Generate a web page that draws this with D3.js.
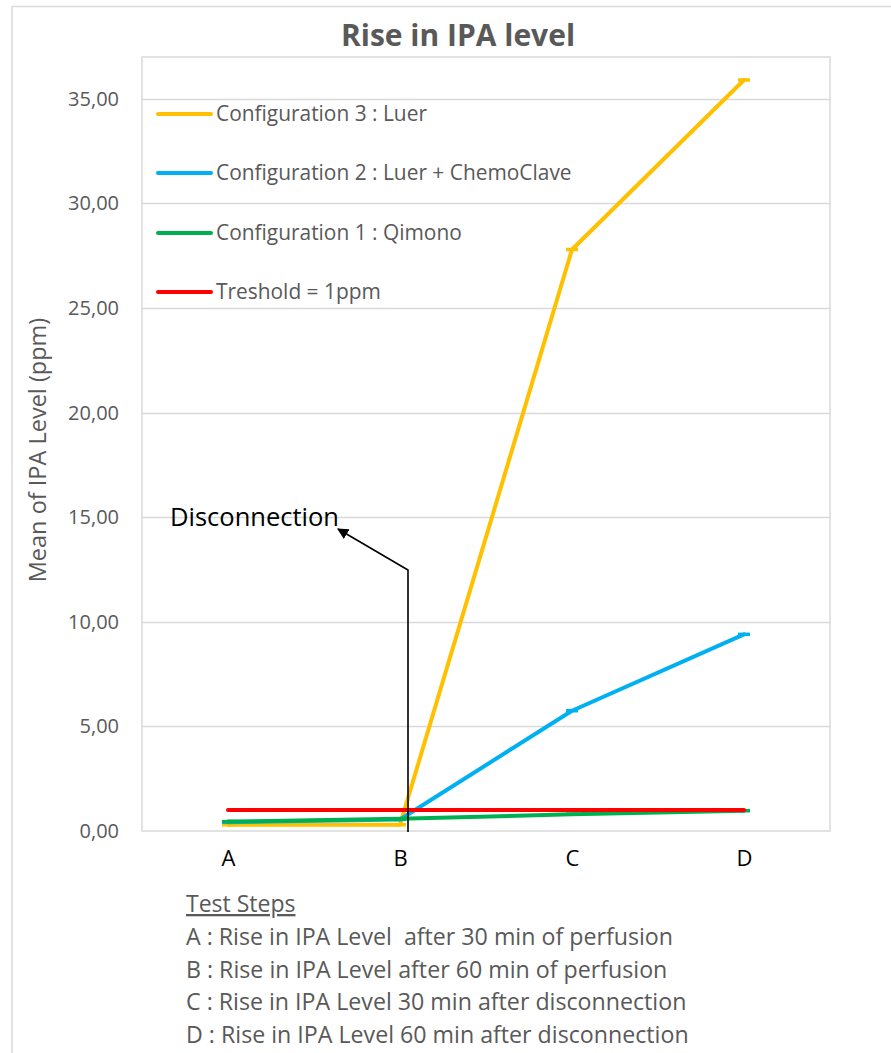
<!DOCTYPE html>
<html>
<head>
<meta charset="utf-8">
<script src="https://cdn.jsdelivr.net/npm/d3@7"></script>
<style>
  html, body { margin: 0; padding: 0; background: #fff; }
  svg { display: block; }
  text { font-family: "Open Sans", Lato, sans-serif; }
</style>
</head>
<body>
<svg id="chart" width="891" height="1053"></svg>
<script>
// Test steps on the x axis
const categories = ["A", "B", "C", "D"];

// Mean IPA level (ppm) for each configuration at each step
const config3Luer = [0.30, 0.30, 27.80, 35.90];
const config2Chemo = [0.42, 0.55, 5.75, 9.40];
const config1Qimono = [0.45, 0.58, 0.80, 0.97];
const threshold = [1.00, 1.00, 1.00, 1.00];

const yTicks = [0, 5, 10, 15, 20, 25, 30, 35];

const legendLabels = [
  "Configuration 3 : Luer",
  "Configuration 2 : Luer + ChemoClave",
  "Configuration 1 : Qimono",
  "Treshold = 1ppm"
];

const stepNotes = [
  "A : Rise in IPA Level  after 30 min of perfusion",
  "B : Rise in IPA Level after 60 min of perfusion",
  "C : Rise in IPA Level 30 min after disconnection",
  "D : Rise in IPA Level 60 min after disconnection"
];

const series = [
  { name: legendLabels[0], values: config3Luer, color: "#FFC000", caps: true },
  { name: legendLabels[1], values: config2Chemo, color: "#00B0F0", caps: true },
  { name: legendLabels[2], values: config1Qimono, color: "#00B050", caps: true },
  { name: legendLabels[3], values: threshold, color: "#FF0000", caps: false }
];

const svg = d3.select("#chart");
const grey = "#595959";
const gridColor = "#d9d9d9";

// outer chart frame
svg.append("line").attr("x1", 12).attr("x2", 891).attr("y1", 6.5).attr("y2", 6.5)
  .attr("stroke", gridColor).attr("stroke-width", 1.5);
svg.append("line").attr("x1", 12).attr("x2", 12).attr("y1", 6).attr("y2", 1053)
  .attr("stroke", gridColor).attr("stroke-width", 1.5);

const plot = { left: 142, right: 830, top: 57, bottom: 831 };

const x = d3.scalePoint().domain(categories).range([plot.left, plot.right]).padding(0.5);
const y = d3.scaleLinear().domain([0, 37]).range([plot.bottom, plot.top]);

// title
svg.append("text")
  .attr("x", 458).attr("y", 46)
  .attr("text-anchor", "middle")
  .attr("font-size", 30).attr("font-weight", "bold")
  .attr("fill", grey)
  .text("Rise in IPA level");

// gridlines
svg.append("g")
  .selectAll("line")
  .data(yTicks.filter(d => d > 0))
  .join("line")
  .attr("x1", plot.left).attr("x2", plot.right)
  .attr("y1", d => Math.round(y(d)) + 0.5).attr("y2", d => Math.round(y(d)) + 0.5)
  .attr("stroke", gridColor).attr("stroke-width", 1.5);

// plot area border
svg.append("rect")
  .attr("x", plot.left).attr("y", plot.top)
  .attr("width", plot.right - plot.left).attr("height", plot.bottom - plot.top)
  .attr("fill", "none").attr("stroke", gridColor).attr("stroke-width", 1.5);

// y axis
const yAxis = d3.axisLeft(y)
  .tickValues(yTicks)
  .tickSize(0)
  .tickPadding(23)
  .tickFormat(d => d3.format(".2f")(d).replace(".", ","));
const yg = svg.append("g").attr("transform", `translate(${plot.left},0)`).call(yAxis);
yg.select(".domain").remove();
yg.selectAll("text").attr("font-size", 20).attr("fill", grey)
  .attr("font-family", "'Open Sans', Lato, sans-serif");

// y axis title
svg.append("text")
  .attr("transform", `translate(46,450) rotate(-90)`)
  .attr("text-anchor", "middle")
  .attr("font-size", 23.5).attr("fill", grey)
  .text("Mean of IPA Level (ppm)");

// x axis
const xAxis = d3.axisBottom(x).tickSize(0).tickPadding(19);
const xg = svg.append("g").attr("transform", `translate(0,${plot.bottom})`).call(xAxis);
xg.select(".domain").remove();
xg.selectAll("text").attr("font-size", 22).attr("fill", "#000")
  .attr("font-family", "'Open Sans', Lato, sans-serif");

// series lines
const line = d3.line()
  .x((d, i) => x(categories[i]))
  .y(d => y(d));

series.forEach(s => {
  svg.append("path")
    .datum(s.values)
    .attr("d", line)
    .attr("fill", "none")
    .attr("stroke", s.color)
    .attr("stroke-width", 4)
    .attr("stroke-linecap", "round")
    .attr("stroke-linejoin", "round");
  if (s.caps) {
    svg.append("g")
      .selectAll("line")
      .data(s.values)
      .join("line")
      .attr("x1", (d, i) => x(categories[i]) - 6)
      .attr("x2", (d, i) => x(categories[i]) + 6)
      .attr("y1", d => y(d)).attr("y2", d => y(d))
      .attr("stroke", s.color).attr("stroke-width", 3.5);
  }
});

// legend inside the plot area
const legendY = [114, 173, 233, 292];
const lg = svg.append("g");
series.forEach((s, i) => {
  lg.append("line")
    .attr("x1", 158).attr("x2", 211)
    .attr("y1", legendY[i]).attr("y2", legendY[i])
    .attr("stroke", s.color).attr("stroke-width", 4)
    .attr("stroke-linecap", "round");
  lg.append("text")
    .attr("x", 216).attr("y", legendY[i])
    .attr("dy", "0.35em")
    .attr("font-size", 20.9).attr("fill", grey)
    .text(s.name);
});

// disconnection annotation
svg.append("defs").append("marker")
  .attr("id", "arrowhead")
  .attr("viewBox", "0 0 10 10")
  .attr("refX", 9).attr("refY", 5)
  .attr("markerWidth", 7).attr("markerHeight", 7)
  .attr("orient", "auto")
  .append("path")
  .attr("d", "M0,0 L10,5 L0,10 z")
  .attr("fill", "#000");

const bx = x("B") + 8;
svg.append("path")
  .attr("d", `M${bx},${plot.bottom + 1} L${bx},570 L338,529`)
  .attr("fill", "none")
  .attr("stroke", "#000").attr("stroke-width", 1.6)
  .attr("marker-end", "url(#arrowhead)");

svg.append("text")
  .attr("x", 170).attr("y", 526)
  .attr("font-size", 25.5).attr("fill", "#000")
  .text("Disconnection");

// test step notes
const notes = svg.append("g");
notes.append("text")
  .attr("x", 186).attr("y", 912)
  .attr("font-size", 23).attr("fill", grey)
  .attr("text-decoration", "underline")
  .text("Test Steps");
notes.selectAll("text.step")
  .data(stepNotes)
  .join("text")
  .attr("class", "step")
  .attr("x", 186)
  .attr("y", (d, i) => 945 + i * 32.5)
  .attr("font-size", 23.2).attr("fill", grey)
  .style("white-space", "pre")
  .text(d => d);
</script>
</body>
</html>
